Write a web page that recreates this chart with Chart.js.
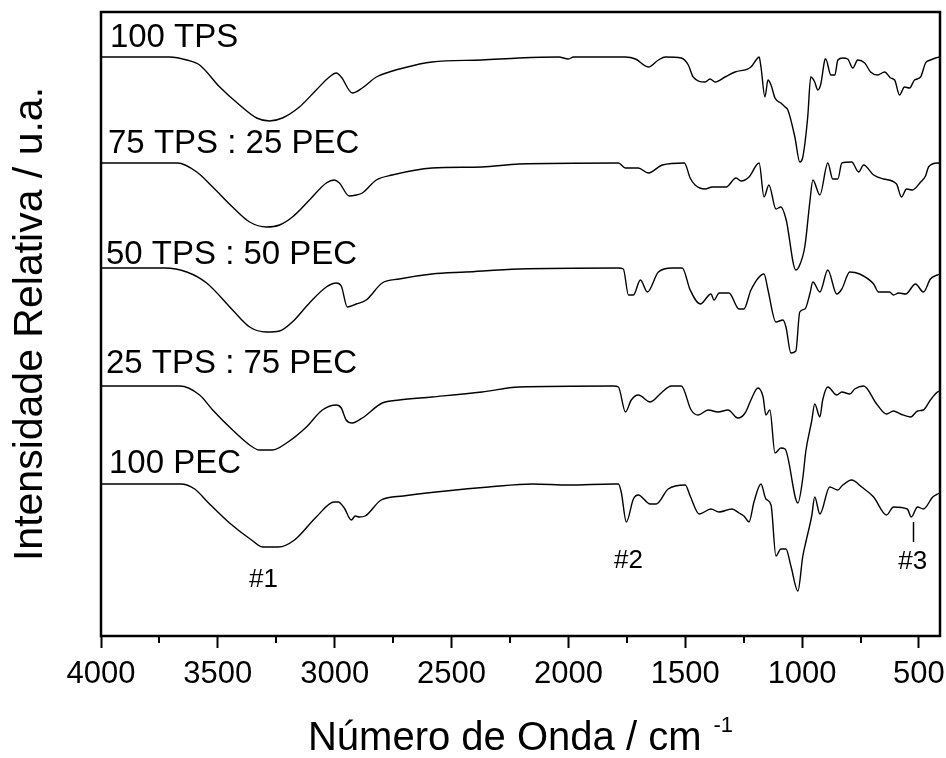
<!DOCTYPE html>
<html>
<head>
<meta charset="utf-8">
<title>FTIR TPS/PEC</title>
<script src="https://cdn.jsdelivr.net/npm/chart.js@4.4.0/dist/chart.umd.min.js"></script>
<style>
    html, body { margin: 0; padding: 0; background: #fff; }
    canvas { display: block; }
</style>
</head>
<body>
<canvas id="ftirChart" width="946" height="758"></canvas>
<script>
// FTIR 스펙트럼 (TPS / PEC 블렌드)

// x축 눈금 (cm-1)
const xTicks = [500, 1000, 1500, 2000, 2500, 3000, 3500, 4000];
const xMinorTicks = [750, 1250, 1750, 2250, 2750, 3250, 3750];

const seriesNames = ['100 TPS', '75 TPS : 25 PEC', '50 TPS : 50 PEC', '25 TPS : 75 PEC', '100 PEC'];
// 각 스펙트럼의 세로 오프셋 (u.a.)
const offsets = [579, 473, 368, 250, 152];

// 100 TPS
const tps100Wn = [4000, 3706, 3633, 3578, 3492, 3407, 3334, 3279, 3224, 3151, 3079, 3023, 2993, 2972, 2925, 2882, 2822, 2767, 2724, 2584,
    2370, 2212, 2042, 2000, 1978, 1756, 1713, 1658, 1615, 1585, 1517, 1487, 1466, 1415, 1394, 1372, 1330, 1287, 1219, 1197,
    1184, 1176, 1159, 1146, 1133, 1116, 1091, 1073, 1061, 1031, 1010, 997, 976, 963, 946, 933, 920, 903, 899, 877,
    860, 847, 826, 805, 783, 762, 732, 707, 677, 647, 621, 604, 583, 562, 540, 519, 493, 472, 451, 429, 410];
const tps100Depth = [0, 0, 3, 8, 30, 48, 61, 64, 61, 50, 33, 20, 16, 20, 36, 31, 20, 15, 12, 5,
    3, 1, 0, 2, 0, 0, 2, 10, 3, 0, 1, 8, 20, 25, 22, 25, 20, 15, 10, 3,
    0, 10, 40, 23, 28, 41, 46, 50, 53, 80, 105, 100, 60, 20, 25, 33, 27, 3, 2, 18,
    18, 3, 1, 2, 11, 3, 6, 15, 18, 15, 21, 23, 38, 30, 31, 23, 20, 6, 3, 1, 0];

// 75 TPS : 25 PEC
const tps75Wn = [4000, 3672, 3590, 3522, 3437, 3364, 3292, 3236, 3181, 3108, 3036, 3002, 2980, 2938, 2908, 2882, 2822, 2754, 2584, 2370,
    2212, 1786, 1756, 1701, 1658, 1598, 1504, 1479, 1458, 1415, 1385, 1325, 1283, 1261, 1227, 1184, 1163, 1142, 1112, 1091,
    1069, 1027, 1014, 988, 967, 954, 924, 890, 869, 847, 830, 788, 758, 737, 694, 651, 596, 575, 553, 528,
    493, 472, 459, 421, 410];
const tps75Depth = [0, 0, 9, 24, 44, 59, 64, 62, 54, 37, 20, 17, 20, 33, 32, 30, 17, 12, 5, 4,
    1, 0, 5, 5, 10, 2, 0, 15, 22, 26, 24, 24, 15, 18, 14, 0, 34, 22, 46, 44,
    56, 107, 104, 83, 39, 17, 32, 0, 16, 16, 0, -1, 9, 2, 12, 16, 21, 34, 26, 27,
    19, 13, 4, 0, 0];

// 50 TPS : 50 PEC
const tps50Wn = [4000, 3727, 3633, 3548, 3437, 3364, 3292, 3236, 3181, 3108, 3036, 2993, 2972, 2946, 2908, 2865, 2797, 2724, 2584, 2439,
    2212, 1786, 1765, 1743, 1722, 1692, 1662, 1615, 1556, 1513, 1479, 1436, 1390, 1377, 1355, 1313, 1270, 1249, 1219, 1163,
    1146, 1112, 1082, 1069, 1048, 1027, 1010, 988, 967, 954, 924, 890, 852, 830, 796, 754, 694, 673, 626, 609,
    587, 557, 515, 481, 451, 421, 410];
const tps50Depth = [0, 0, 4, 15, 42, 59, 64, 63, 54, 35, 19, 15, 18, 39, 36, 32, 15, 11, 6, 4,
    1, 0, 1, 27, 27, 12, 24, 4, 0, 0, 22, 36, 26, 32, 25, 25, 41, 41, 22, 6,
    22, 54, 52, 59, 85, 83, 44, 41, 26, 14, 24, 2, 26, 21, 4, 6, 16, 24, 24, 27,
    25, 26, 16, 24, 11, 7, 6];

// 25 TPS : 75 PEC
const tps25Wn = [4000, 3663, 3578, 3522, 3437, 3364, 3322, 3266, 3206, 3121, 3053, 2993, 2972, 2951, 2925, 2882, 2797, 2724, 2584, 2370,
    2212, 1807, 1786, 1756, 1731, 1701, 1650, 1603, 1560, 1517, 1475, 1445, 1402, 1360, 1317, 1275, 1244, 1219, 1189, 1167,
    1155, 1138, 1116, 1091, 1073, 1018, 997, 984, 959, 946, 924, 912, 890, 852, 830, 796, 775, 737, 681, 639,
    609, 579, 536, 506, 481, 451, 421, 410];
const tps25Depth = [0, 0, 9, 24, 44, 59, 64, 64, 57, 41, 24, 19, 22, 34, 37, 32, 17, 14, 11, 6,
    1, 0, 1, 26, 14, 9, 16, 7, 0, 0, 24, 29, 24, 26, 24, 32, 27, 14, 2, 11,
    29, 24, 67, 62, 63, 117, 92, 65, 35, 18, 31, 14, 1, 9, 6, 8, 3, 0, 18, 28,
    25, 28, 31, 25, 24, 14, 6, 5];

// 100 PEC
const pec100Wn = [4000, 3659, 3599, 3544, 3450, 3356, 3309, 3241, 3172, 3079, 3002, 2985, 2959, 2929, 2912, 2895, 2870, 2801, 2707, 2524,
    2341, 2153, 2000, 1807, 1786, 1774, 1752, 1722, 1701, 1650, 1624, 1573, 1500, 1479, 1440, 1390, 1356, 1300, 1270, 1249,
    1227, 1206, 1176, 1155, 1133, 1112, 1091, 1069, 1048, 1018, 997, 984, 959, 946, 924, 882, 847, 830, 788, 745,
    694, 639, 609, 550, 533, 506, 481, 441, 421, 410];
const pec100Depth = [0, 0, 5, 18, 39, 56, 63, 63, 56, 33, 18, 18, 24, 36, 32, 33, 32, 16, 12, 7,
    3, 0, 1, 0, 0, 8, 38, 15, 11, 20, 20, 5, 1, 12, 30, 25, 28, 25, 29, 32,
    38, 18, 0, 15, 21, 72, 65, 65, 82, 107, 72, 58, 32, 13, 30, 3, 6, 2, -4, 3,
    13, 31, 23, 25, 33, 23, 25, 13, 10, 9];

const spectra = [
    [tps100Wn, tps100Depth],
    [tps75Wn, tps75Depth],
    [tps50Wn, tps50Depth],
    [tps25Wn, tps25Depth],
    [pec100Wn, pec100Depth]
];

// 라벨 위치 (cm-1, u.a.)
const nameAnchors = [[3962, 589], [3970, 483], [3979, 372], [3979, 263], [3966, 163]];
const peakMarks = [
    { text: '#1', x: 3305, y: 49 },
    { text: '#2', x: 1743, y: 68 },
    { text: '#3', x: 527, y: 67 }
];

const FONT = '"Liberation Sans", Arial, sans-serif';

function toPoints(wn, depth, offset) {
    return wn.map((w, i) => ({ x: w, y: offset - depth[i] }));
}

// 테두리, 보조 눈금, 텍스트
const decorPlugin = {
    id: 'decor',
    afterDraw(chart) {
        const { ctx, chartArea: a, scales: { x, y } } = chart;
        ctx.save();
        ctx.strokeStyle = '#000';
        ctx.fillStyle = '#000';

        // 프레임
        ctx.lineWidth = 2.5;
        ctx.strokeRect(a.left, a.top, a.right - a.left, a.bottom - a.top);

        // 보조 눈금
        ctx.lineWidth = 2;
        xMinorTicks.forEach(v => {
            const px = Math.round(x.getPixelForValue(v));
            ctx.beginPath();
            ctx.moveTo(px, a.bottom);
            ctx.lineTo(px, a.bottom + 7);
            ctx.stroke();
        });

        // 스펙트럼 이름
        ctx.font = '33px ' + FONT;
        ctx.textAlign = 'left';
        ctx.textBaseline = 'alphabetic';
        seriesNames.forEach((name, i) => {
            ctx.fillText(name, x.getPixelForValue(nameAnchors[i][0]), y.getPixelForValue(nameAnchors[i][1]));
        });

        // 피크 표시
        ctx.font = '26px ' + FONT;
        ctx.textAlign = 'center';
        peakMarks.forEach(m => {
            ctx.fillText(m.text, x.getPixelForValue(m.x), y.getPixelForValue(m.y));
        });
        ctx.lineWidth = 1.5;
        const mx = Math.round(x.getPixelForValue(527)) + 0.5;
        ctx.beginPath();
        ctx.moveTo(mx, y.getPixelForValue(114));
        ctx.lineTo(mx, y.getPixelForValue(94));
        ctx.stroke();

        // x축 제목 (위첨자 포함)
        const main = 'Número de Onda / cm';
        const sup = '-1';
        ctx.font = '40px ' + FONT;
        const mainW = ctx.measureText(main).width;
        ctx.font = '22px ' + FONT;
        const supW = ctx.measureText(sup).width;
        const gap = 12;
        const left = (a.left + a.right) / 2 - (mainW + gap + supW) / 2;
        ctx.textAlign = 'left';
        ctx.font = '40px ' + FONT;
        ctx.fillText(main, left, 750);
        ctx.font = '22px ' + FONT;
        ctx.fillText(sup, left + mainW + gap, 732);

        ctx.restore();
    }
};

document.addEventListener('DOMContentLoaded', function() {
    const ctx = document.getElementById('ftirChart');
    new Chart(ctx, {
        type: 'line',
        data: {
            datasets: spectra.map((s, i) => ({
                label: seriesNames[i],
                data: toPoints(s[0], s[1], offsets[i]),
                borderColor: '#000',
                borderWidth: 1.4,
                pointRadius: 0,
                fill: false,
                cubicInterpolationMode: 'monotone'
            }))
        },
        options: {
            responsive: false,
            animation: false,
            devicePixelRatio: 1,
            layout: {
                padding: { top: 12, right: 6, left: 0, bottom: 0 }
            },
            plugins: {
                legend: { display: false },
                tooltip: { enabled: false }
            },
            scales: {
                x: {
                    type: 'linear',
                    reverse: true,
                    min: 410,
                    max: 4000,
                    afterBuildTicks: function(scale) {
                        scale.ticks = xTicks.map(v => ({ value: v }));
                    },
                    afterFit: function(scale) {
                        scale.height = 122;
                    },
                    ticks: {
                        color: '#000',
                        font: { family: FONT, size: 31 },
                        padding: 8,
                        maxRotation: 0,
                        autoSkip: false,
                        callback: function(value) {
                            return String(value);
                        }
                    },
                    grid: {
                        drawOnChartArea: false,
                        drawTicks: true,
                        tickLength: 12,
                        tickWidth: 2,
                        tickColor: '#000'
                    },
                    border: { display: false }
                },
                y: {
                    type: 'linear',
                    min: 0,
                    max: 624,
                    afterFit: function(scale) {
                        scale.width = 101;
                    },
                    ticks: { display: false },
                    grid: { display: false },
                    border: { display: false },
                    title: {
                        display: true,
                        text: 'Intensidade Relativa / u.a.',
                        color: '#000',
                        font: { family: FONT, size: 41 },
                        padding: { top: 6, bottom: 0 }
                    }
                }
            }
        },
        plugins: [decorPlugin]
    });
});
</script>
</body>
</html>
